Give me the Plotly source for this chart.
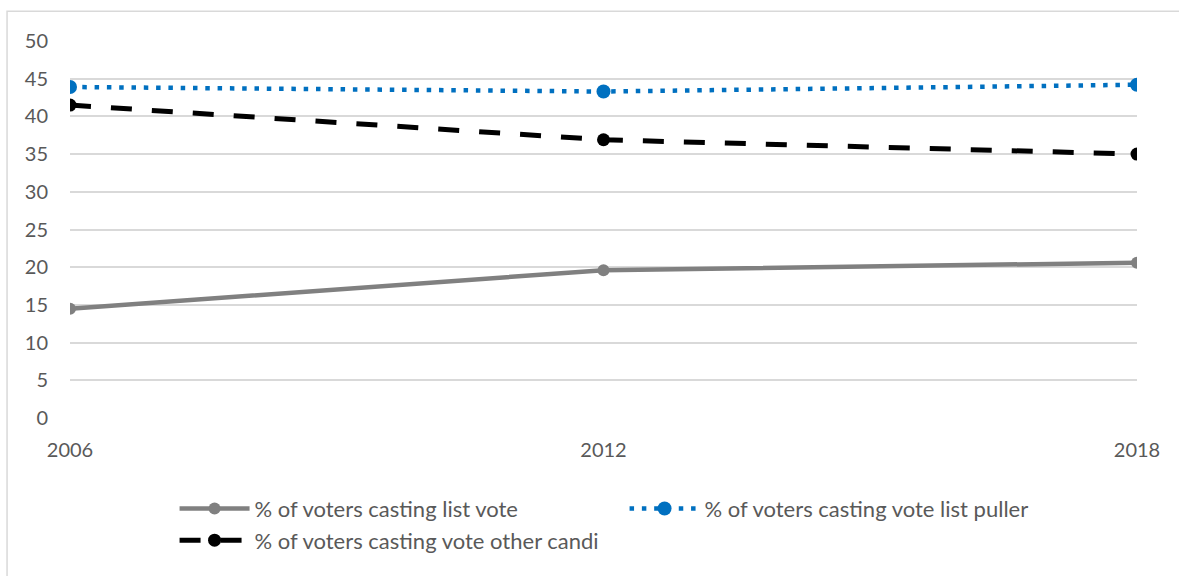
import plotly.graph_objects as go

# Election years and vote shares (%)
years = [2006, 2012, 2018]
list_vote = [14.5, 19.6, 20.6]
list_puller = [43.9, 43.3, 44.2]
other_candidate = [41.5, 36.9, 35.0]

series_names = [
    "% of voters casting list vote",
    "% of voters casting vote list puller",
    "% of voters casting vote other candi",
]

y_ticks = list(range(0, 51, 5))

FONT = "Lato, 'Liberation Sans', sans-serif"
TEXT_GREY = "#595959"
GRID = "#D9D9D9"

fig = go.Figure()

fig.add_trace(go.Scatter(
    x=years, y=list_vote, name=series_names[0], mode="lines+markers",
    line=dict(color="#808080", width=4.5),
    marker=dict(color="#808080", size=12),
    legendrank=1,
))
fig.add_trace(go.Scatter(
    x=years, y=other_candidate, name=series_names[2], mode="lines+markers",
    line=dict(color="#000000", width=5, dash="21px,20px"),
    marker=dict(color="#000000", size=13),
    legendrank=3,
))
fig.add_trace(go.Scatter(
    x=years, y=list_puller, name=series_names[1], mode="lines+markers",
    line=dict(color="#0070C0", width=4.5, dash="4.5px,7.8px"),
    marker=dict(color="#0070C0", size=14),
    legendrank=2,
))

fig.update_layout(
    width=1179, height=576,
    margin=dict(l=70, r=42, t=41, b=158),
    paper_bgcolor="white", plot_bgcolor="white",
    font=dict(family=FONT, size=20, color=TEXT_GREY),
    showlegend=True,
    legend=dict(
        orientation="h",
        x=0.098, xanchor="left",
        y=-0.185, yanchor="top",
        entrywidth=365, entrywidthmode="pixels",
        itemwidth=70,
        font=dict(family=FONT, size=22, color=TEXT_GREY),
        bgcolor="rgba(0,0,0,0)",
    ),
    xaxis=dict(
        range=[2006, 2018],
        tickmode="array", tickvals=years, ticktext=[str(y) for y in years],
        showgrid=False, zeroline=False,
        showline=False,
        ticks="outside", ticklen=14, tickcolor="rgba(0,0,0,0)",
        tickfont=dict(family=FONT, size=20, color=TEXT_GREY),
    ),
    yaxis=dict(
        range=[0, 50],
        tickmode="array", tickvals=y_ticks,
        showgrid=True, gridcolor=GRID, gridwidth=1.5,
        zeroline=False, showline=False,
        ticks="outside", ticklen=17, tickcolor="rgba(0,0,0,0)",
        tickfont=dict(family=FONT, size=20, color=TEXT_GREY),
    ),
    shapes=[
        # outer chart border
        dict(type="rect", xref="paper", yref="paper",
             x0=-0.059, x1=1.2, y0=-0.6, y1=1.0787,
             line=dict(color=GRID, width=1.5), fillcolor="rgba(0,0,0,0)",
             layer="below"),
    ],
)

fig.write_html("out.html")
